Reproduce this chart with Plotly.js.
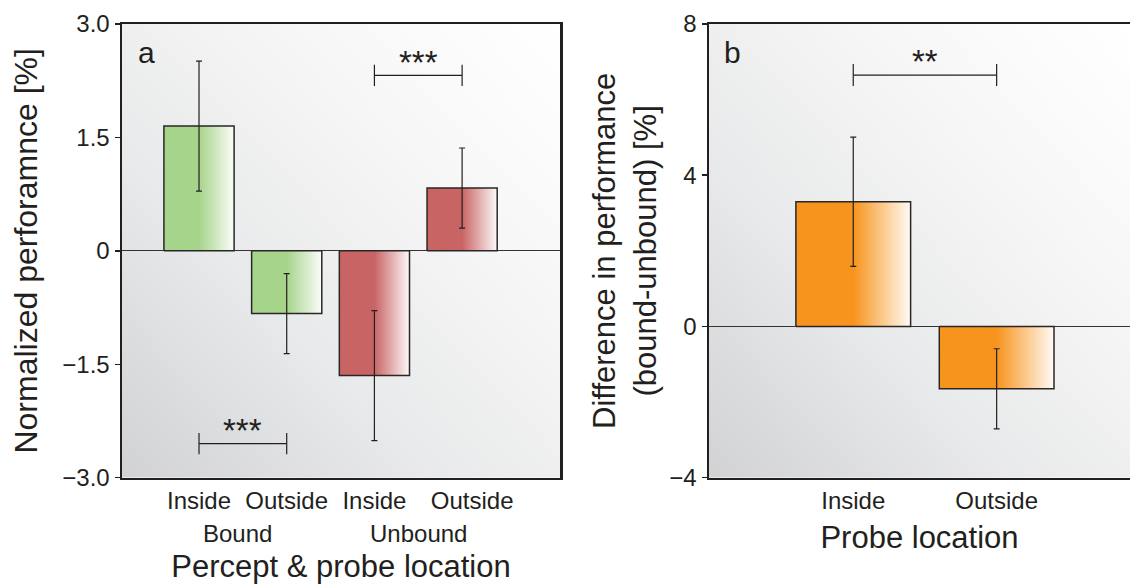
<!DOCTYPE html>
<html>
<head>
<meta charset="utf-8">
<script src="https://cdn.plot.ly/plotly-3.0.1.min.js"></script>
<style>html,body{margin:0;padding:0;background:#fff;overflow:hidden}</style>
</head>
<body>
<div id="chart" style="width:1130px;height:584px"></div>
<script>
// ---- data: panel a ----
const catsA = ['Inside', 'Outside', 'Inside', 'Outside'];
const groupsA = ['Bound', 'Unbound'];
const groupPosA = [0.44, 2.5];
const valsA = [1.65, -0.83, -1.65, 0.83];
const errA = [0.86, 0.53, 0.86, 0.53];
const colorsA = ['#a6d48a', '#a6d48a', '#c96465', '#c96465'];
const yTicksA = [-3, -1.5, 0, 1.5, 3];
const yTickTextA = ['\u22123.0', '\u22121.5', '0', '1.5', '3.0'];
const sigFromA = [2, 0];
const sigToA = [3, 1];
const sigYA = [2.32, -2.55];
const sigLabelA = ['***', '***'];

// ---- data: panel b ----
const catsB = ['Inside', 'Outside'];
const valsB = [3.30, -1.65];
const errB = [1.71, 1.06];
const colorsB = ['#f7941e', '#f7941e'];
const yTicksB = [-4, 0, 4, 8];
const sigFromB = [0];
const sigToB = [1];
const sigYB = [6.65];
const sigLabelB = ['**'];

const INK = '#231f20';
const FONT = 'Liberation Sans, Arial, Helvetica, sans-serif';
const BARW = 0.8;

function mix(hex, t) { // mix colour with white, t = share of colour
  const n = parseInt(hex.slice(1), 16);
  const r = (n >> 16) & 255, g = (n >> 8) & 255, b = n & 255;
  const f = c => Math.round(255 - (255 - c) * t);
  return 'rgb(' + f(r) + ',' + f(g) + ',' + f(b) + ')';
}

function gradientBars(vals, colors, xa, ya) {
  return vals.map((v, i) => ({
    type: 'scatter', mode: 'lines', xaxis: xa, yaxis: ya,
    x: [i - BARW / 2, i + BARW / 2, i + BARW / 2, i - BARW / 2, i - BARW / 2],
    y: [0, 0, v, v, 0],
    fill: 'toself',
    line: {width: 1.5, color: '#2a2627'},
    fillgradient: {type: 'horizontal',
      colorscale: [[0, colors[i]], [0.5, colors[i]], [1, mix(colors[i], 0.04)]]},
    hoverinfo: 'skip', showlegend: false
  }));
}

function errorBars(vals, errs, xa, ya) {
  return {
    type: 'scatter', mode: 'markers', xaxis: xa, yaxis: ya,
    x: vals.map((v, i) => i), y: vals,
    marker: {size: 1, opacity: 0},
    error_y: {type: 'data', array: errs, visible: true, color: INK, thickness: 1.2, width: 3},
    showlegend: false, hoverinfo: 'skip'
  };
}

function sigShapes(from, to, ys, half, xa, ya) {
  const s = [];
  from.forEach((f, k) => {
    const t = to[k], y = ys[k];
    const line = {color: INK, width: 1.2};
    s.push({type: 'line', xref: xa, yref: ya, x0: f, x1: t, y0: y, y1: y, line});
    s.push({type: 'line', xref: xa, yref: ya, x0: f, x1: f, y0: y - half, y1: y + half, line});
    s.push({type: 'line', xref: xa, yref: ya, x0: t, x1: t, y0: y - half, y1: y + half, line});
  });
  return s;
}

function sigLabels(from, to, ys, labels, half, xa, ya) {
  return labels.map((l, k) => ({
    xref: xa, yref: ya, x: (from[k] + to[k]) / 2, y: ys[k] + half,
    text: l, showarrow: false, yanchor: 'bottom', yshift: -18,
    font: {family: FONT, size: 33, color: INK}
  }));
}

function bgImage(x0, x1, y0, y1) {
  const svg = "<svg xmlns='http://www.w3.org/2000/svg' width='200' height='200' preserveAspectRatio='none' viewBox='0 0 200 200'>" +
    "<defs><linearGradient id='g' x1='0' y1='1' x2='1' y2='0'>" +
    "<stop offset='0' stop-color='#d1d2d4'/><stop offset='0.35' stop-color='#e8e9ea'/>" +
    "<stop offset='0.7' stop-color='#f7f7f7'/><stop offset='1' stop-color='#ffffff'/></linearGradient></defs>" +
    "<rect width='200' height='200' fill='url(#g)'/></svg>";
  return {
    source: 'data:image/svg+xml;charset=utf-8,' + encodeURIComponent(svg),
    xref: 'paper', yref: 'paper', x: x0, y: y1, sizex: x1 - x0, sizey: y1 - y0,
    xanchor: 'left', yanchor: 'top', sizing: 'stretch', layer: 'below'
  };
}

const domA = [122 / 1130, 560 / 1130];
const domB = [709 / 1130, 1];
const domY = [1 - 477.7 / 584, 1 - 24 / 584];

const traces = [].concat(
  gradientBars(valsA, colorsA, 'x', 'y'),
  [errorBars(valsA, errA, 'x', 'y')],
  gradientBars(valsB, colorsB, 'x2', 'y2'),
  [errorBars(valsB, errB, 'x2', 'y2')]
);

const tickFont = {family: FONT, size: 24, color: INK};
const titleFont = {family: FONT, size: 31, color: INK};

const ticktextA = catsA.map((c, i) => i === 3 ? '\u00a0\u00a0\u00a0' + c : c);

const layout = {
  width: 1130, height: 584,
  margin: {l: 0, r: 0, t: 0, b: 0},
  paper_bgcolor: '#ffffff', plot_bgcolor: 'rgba(0,0,0,0)',
  showlegend: false,
  font: {family: FONT, color: INK},
  xaxis: {
    domain: domA, range: [-0.878, 4.116], anchor: 'y',
    tickvals: catsA.map((c, i) => i), ticktext: ticktextA, ticks: '', tickangle: 0,
    tickfont: tickFont, showgrid: false, zeroline: false,
    showline: true, mirror: true, linecolor: INK, linewidth: 2.5,
    title: {text: 'Percept &amp; probe location', font: titleFont, standoff: 45},
    fixedrange: true
  },
  yaxis: {
    domain: domY, range: [-3, 3], anchor: 'x',
    tickvals: yTicksA, ticktext: yTickTextA, ticks: 'outside', ticklen: 5, tickwidth: 1.5, tickcolor: INK,
    tickfont: tickFont, showgrid: false,
    zeroline: true, zerolinecolor: '#333', zerolinewidth: 1,
    showline: true, mirror: true, linecolor: INK, linewidth: 2.5,
    title: {text: 'Normalized perforamnce [%]', font: {family: FONT, size: 32, color: INK}, standoff: 15},
    fixedrange: true
  },
  xaxis2: {
    domain: domB, range: [-1.006, 1.93], anchor: 'y2',
    tickvals: catsB.map((c, i) => i), ticktext: catsB, ticks: '', tickangle: 0,
    tickfont: tickFont, showgrid: false, zeroline: false,
    showline: true, mirror: true, linecolor: INK, linewidth: 2.5,
    title: {text: 'Probe location', font: titleFont, standoff: 14},
    fixedrange: true
  },
  yaxis2: {
    domain: domY, range: [-4, 8], anchor: 'x2',
    tickvals: yTicksB, ticks: 'outside', ticklen: 5, tickwidth: 1.5, tickcolor: INK,
    tickfont: tickFont, showgrid: false,
    zeroline: true, zerolinecolor: '#333', zerolinewidth: 1,
    showline: true, mirror: false, linecolor: INK, linewidth: 2.5,
    title: {text: 'Difference in performance<br>(bound-unbound) [%]', font: titleFont, standoff: 4},
    fixedrange: true
  },
  images: [bgImage(domA[0], domA[1], domY[0], domY[1]), bgImage(domB[0], domB[1], domY[0], domY[1])],
  shapes: [].concat(
    sigShapes(sigFromA, sigToA, sigYA, 0.14, 'x', 'y'),
    sigShapes(sigFromB, sigToB, sigYB, 0.29, 'x2', 'y2')
  ),
  annotations: [].concat(
    sigLabels(sigFromA, sigToA, sigYA, sigLabelA, 0.14, 'x', 'y'),
    sigLabels(sigFromB, sigToB, sigYB, sigLabelB, 0.29, 'x2', 'y2'),
    groupsA.map((g, k) => ({xref: 'x', yref: 'paper', x: groupPosA[k], y: 1 - 533 / 584,
      text: g, showarrow: false, yanchor: 'middle', font: tickFont})),
    [
      {xref: 'paper', yref: 'paper', x: 136 / 1130, y: 1 - 52 / 584, text: 'a', showarrow: false,
        xanchor: 'left', yanchor: 'middle', font: {family: FONT, size: 30, color: INK}},
      {xref: 'paper', yref: 'paper', x: 722 / 1130, y: 1 - 52 / 584, text: 'b', showarrow: false,
        xanchor: 'left', yanchor: 'middle', font: {family: FONT, size: 30, color: INK}}
    ]
  )
};

Plotly.newPlot('chart', traces, layout, {displayModeBar: false, staticPlot: true});
</script>
</body>
</html>
